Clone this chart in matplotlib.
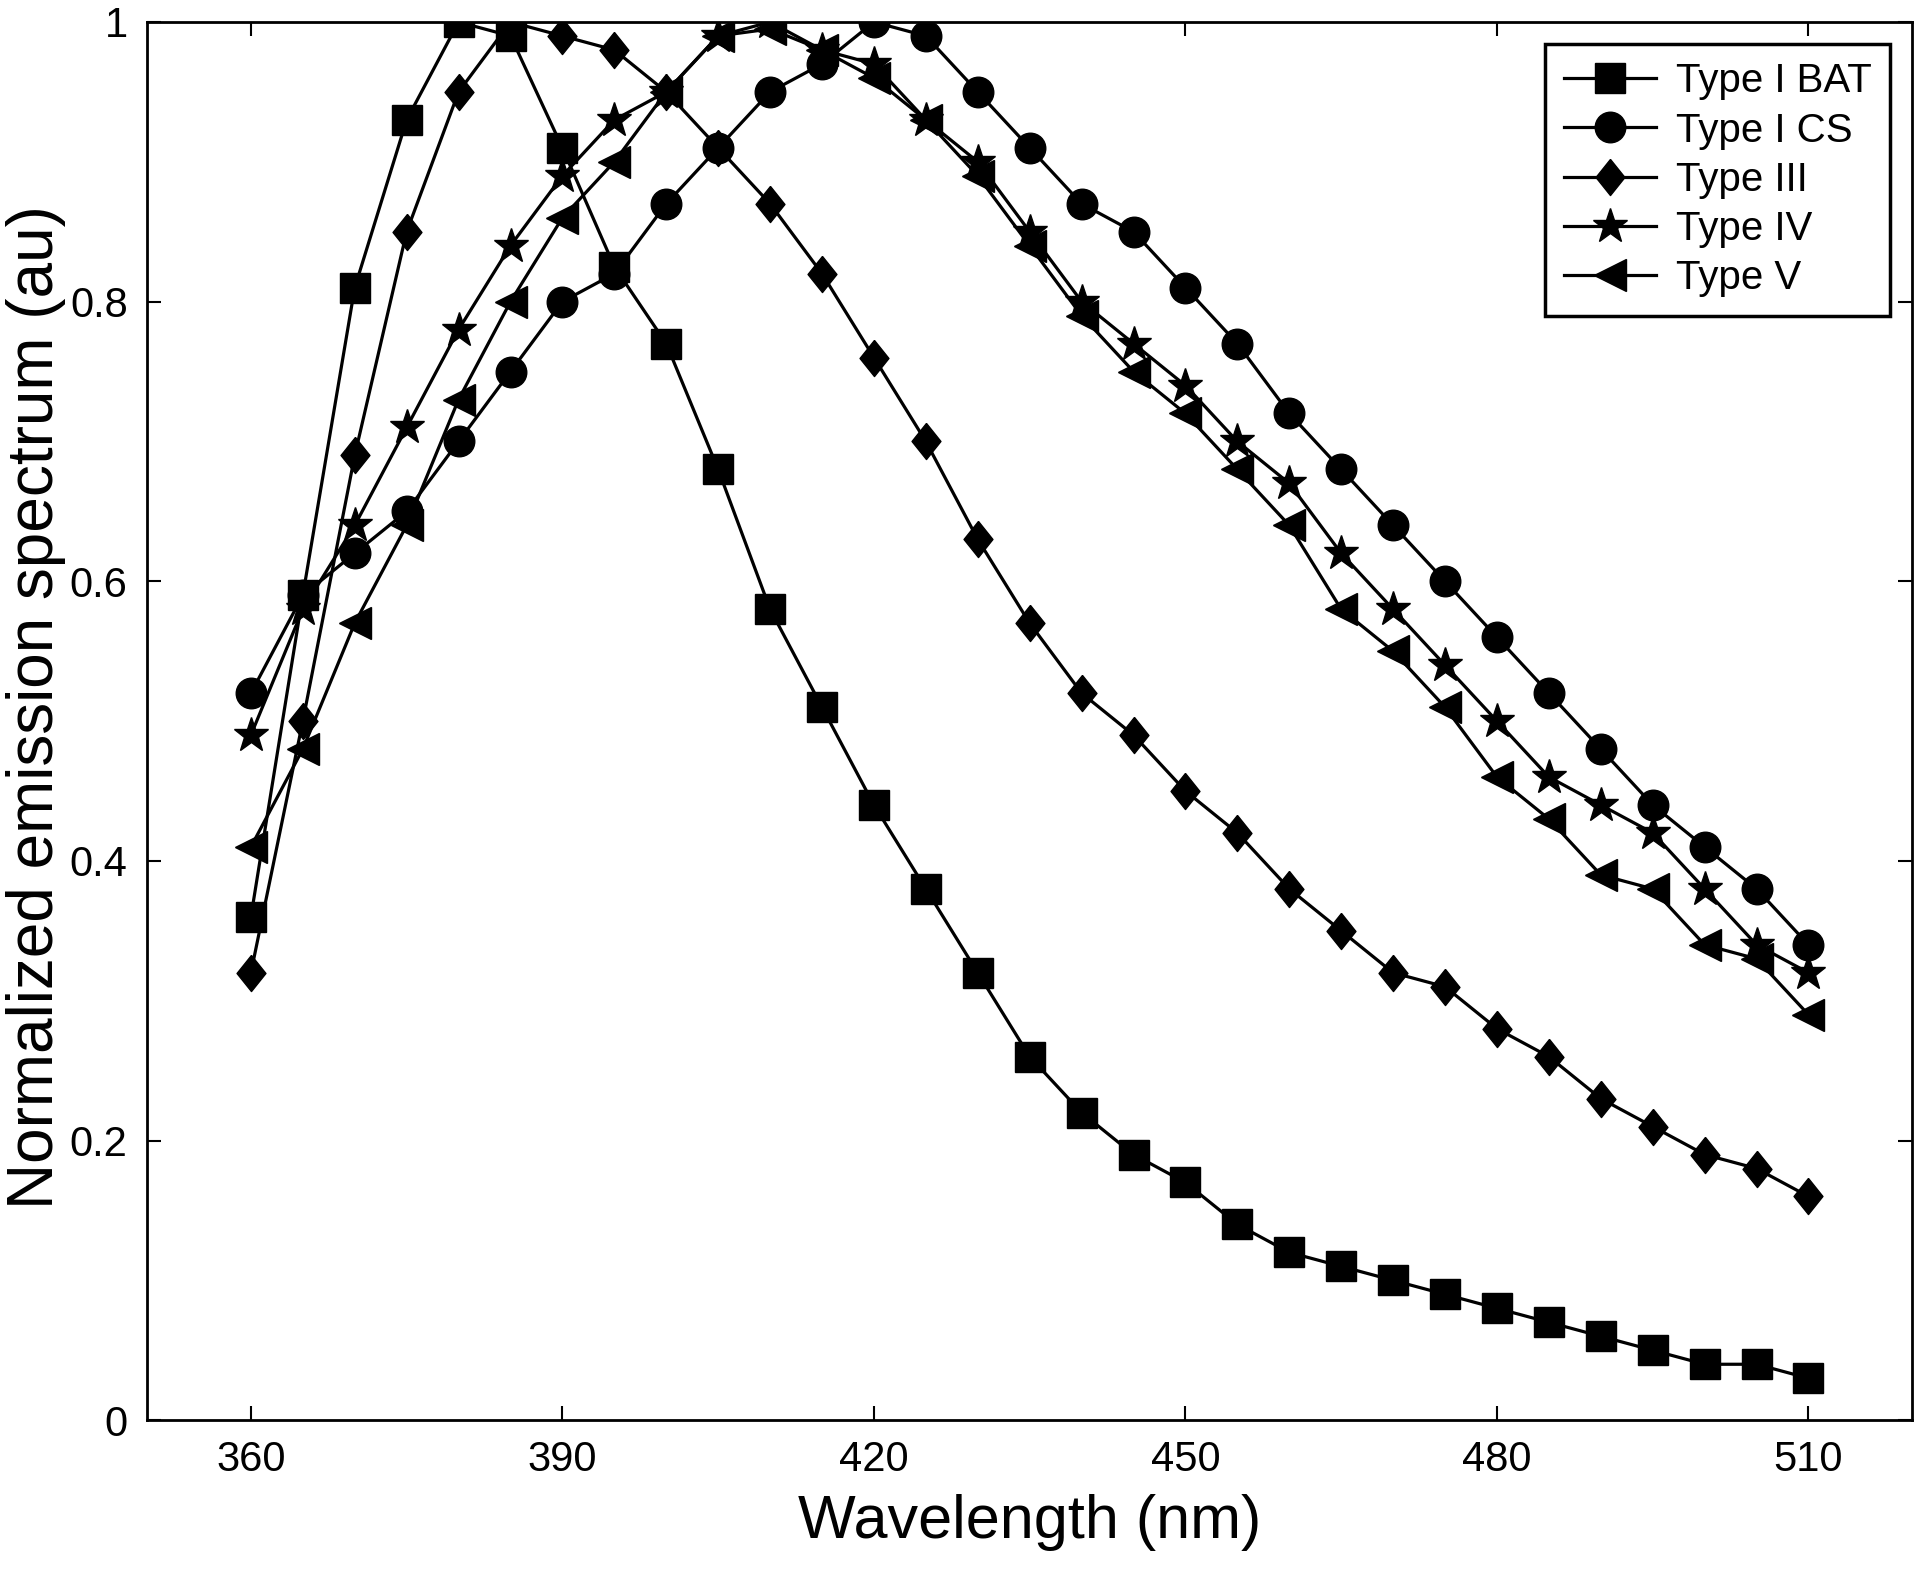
import matplotlib
matplotlib.use('Agg')
import matplotlib.pyplot as plt

plt.rcParams['font.family'] = ['Liberation Sans', 'DejaVu Sans']

# wavelengths, nm (every 5 nm)
wavelength = list(range(360, 511, 5))

type_i_bat = [0.36, 0.59, 0.81, 0.93, 1.00, 0.99, 0.91, 0.825, 0.77, 0.68,
              0.58, 0.51, 0.44, 0.38, 0.32, 0.26, 0.22, 0.19, 0.17, 0.14,
              0.12, 0.11, 0.10, 0.09, 0.08, 0.07, 0.06, 0.05, 0.04, 0.04, 0.03]
type_i_cs = [0.52, 0.59, 0.62, 0.65, 0.70, 0.75, 0.80, 0.82, 0.87, 0.91,
             0.95, 0.97, 1.00, 0.99, 0.95, 0.91, 0.87, 0.85, 0.81, 0.77,
             0.72, 0.68, 0.64, 0.60, 0.56, 0.52, 0.48, 0.44, 0.41, 0.38, 0.34]
type_iii = [0.32, 0.50, 0.69, 0.85, 0.95, 1.00, 0.99, 0.98, 0.95, 0.91,
            0.87, 0.82, 0.76, 0.70, 0.63, 0.57, 0.52, 0.49, 0.45, 0.42,
            0.38, 0.35, 0.32, 0.31, 0.28, 0.26, 0.23, 0.21, 0.19, 0.18, 0.16]
type_iv = [0.49, 0.58, 0.64, 0.71, 0.78, 0.84, 0.89, 0.93, 0.95, 0.99,
           1.00, 0.98, 0.97, 0.93, 0.90, 0.85, 0.80, 0.77, 0.74, 0.70,
           0.67, 0.62, 0.58, 0.54, 0.50, 0.46, 0.44, 0.42, 0.38, 0.34, 0.32]
type_v = [0.41, 0.48, 0.57, 0.64, 0.73, 0.80, 0.86, 0.90, 0.95, 0.99,
          0.995, 0.98, 0.96, 0.93, 0.89, 0.84, 0.79, 0.75, 0.72, 0.68,
          0.64, 0.58, 0.55, 0.51, 0.46, 0.43, 0.39, 0.38, 0.34, 0.33, 0.29]

labels = ['Type I BAT', 'Type I CS', 'Type III', 'Type IV', 'Type V']
x_ticks = [360, 390, 420, 450, 480, 510]
y_ticks = [0, 0.2, 0.4, 0.6, 0.8, 1]
y_ticklabels = ['0', '0.2', '0.4', '0.6', '0.8', '1']

# slightly tall diamond like the MATLAB one
tall_diamond = [(0, 1), (0.8, 0), (0, -1), (-0.8, 0), (0, 1)]

series = [type_i_bat, type_i_cs, type_iii, type_iv, type_v]
markers = [('s', 21), ('o', 22), (tall_diamond, 26), ('*', 26), ('<', 23)]

fig = plt.figure(figsize=(19.2, 15.71), dpi=100)
ax = fig.add_axes([0.0766, 0.096, 0.9194, 0.89])

for vals, lab, (m, ms) in zip(series, labels, markers):
    ax.plot(wavelength, vals, color='black', linewidth=2.3, marker=m,
            markersize=ms, markerfacecolor='black', markeredgecolor='black',
            markeredgewidth=1, label=lab)

ax.set_xlim(350, 520)
ax.set_ylim(0, 1)
ax.set_xticks(x_ticks)
ax.set_yticks(y_ticks)
ax.set_yticklabels(y_ticklabels)
ax.tick_params(direction='in', length=10, width=1.5, top=True, right=True,
               labelsize=30, pad=14)
for s in ax.spines.values():
    s.set_linewidth(2)

ax.set_xlabel('Wavelength (nm)', fontsize=44, labelpad=10)
ax.set_ylabel('Normalized emission spectrum (au)', fontsize=46)
ax.yaxis.set_label_coords(-0.046, 0.51)

leg = ax.legend(loc='upper right', fontsize=29, frameon=True, fancybox=False,
                edgecolor='black', framealpha=1, handlelength=2.3,
                handletextpad=0.5, labelspacing=0.28, borderpad=0.45,
                borderaxespad=0.55, markerscale=1)
leg.get_frame().set_linewidth(2.5)

fig.savefig('out.png', dpi=100, facecolor='white')
